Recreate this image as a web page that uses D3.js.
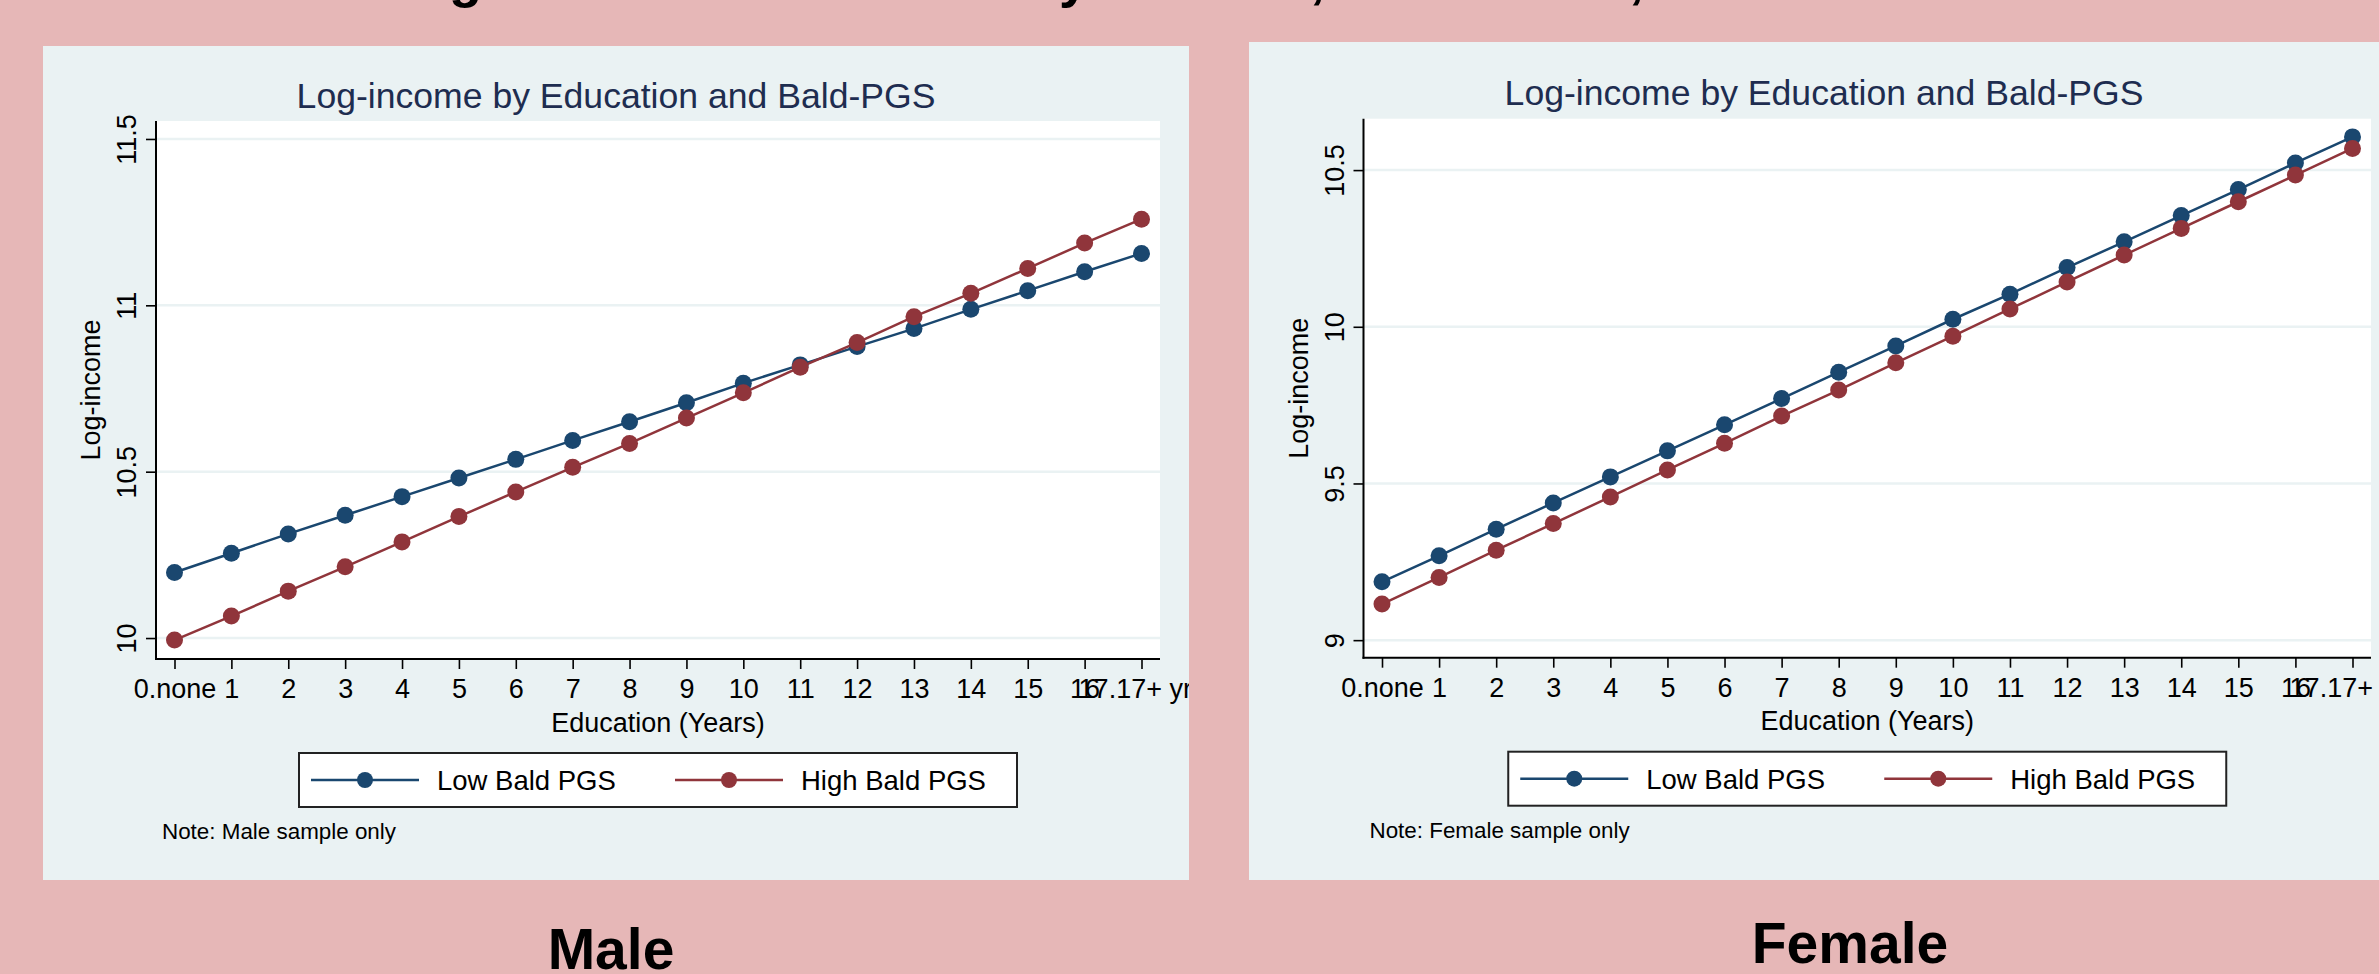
<!DOCTYPE html>
<html>
<head>
<meta charset="utf-8">
<script src="https://cdn.jsdelivr.net/npm/d3@7"></script>
<style>
  body { margin: 0; background: #e6b7b7; }
  svg { display: block; font-family: "Liberation Sans", Arial, Helvetica, sans-serif; }
</style>
</head>
<body>
<div id="chart"></div>
<script>
// Data
var eduLabels = ["0.none", "1", "2", "3", "4", "5", "6", "7", "8", "9", "10",
                 "11", "12", "13", "14", "15", "16", "17.17+ yrs"];
var seriesNames = ["Low Bald PGS", "High Bald PGS"];

var maleLow  = [10.197, 10.255, 10.313, 10.369, 10.425, 10.481, 10.537, 10.594, 10.650,
                10.707, 10.766, 10.821, 10.876, 10.930, 10.988, 11.044, 11.101, 11.156];
var maleHigh = [9.994, 10.066, 10.141, 10.214, 10.289, 10.365, 10.439, 10.513, 10.585,
                10.661, 10.737, 10.814, 10.888, 10.966, 11.036, 11.111, 11.187, 11.259];

var femaleLow  = [9.186, 9.269, 9.354, 9.438, 9.521, 9.604, 9.687, 9.771, 9.855,
                  9.939, 10.024, 10.104, 10.189, 10.271, 10.355, 10.438, 10.523, 10.606];
var femaleHigh = [9.115, 9.200, 9.287, 9.372, 9.457, 9.543, 9.628, 9.715, 9.798,
                  9.885, 9.970, 10.057, 10.143, 10.229, 10.314, 10.399, 10.484, 10.569];

var maleYTicks = [10, 10.5, 11, 11.5];
var maleYTickLabels = ["10", "10.5", "11", "11.5"];
var femaleYTicks = [9, 9.5, 10, 10.5];
var femaleYTickLabels = ["9", "9.5", "10", "10.5"];

var maleYRange = [9.937, 11.554];
var femaleYRange = [8.944, 10.664];


// Page size
var svgWidth = 2379;
var svgHeight = 974;

var colors = ["#1a476f", "#90353b"];
var panelBg = "#eaf2f3";
var fontSize = 27;

var svg = d3.select("#chart")
  .append("svg")
  .attr("width", svgWidth)
  .attr("height", svgHeight);

svg.append("rect")
  .attr("width", svgWidth)
  .attr("height", svgHeight)
  .attr("fill", "#e6b7b7");


// Slide heading, mostly cut off at the top of the picture (only descenders show)
var headParts = [
  {text: "Earnings and", x: 281, anchor: "start"},
  {text: "Education by", x: 1089, anchor: "end"},
  {text: "Cohort,", x: 1325, anchor: "end"},
  {text: "Bald-PGS,", x: 1644, anchor: "end"},
  {text: "and Sex", x: 1660, anchor: "start"}
];
svg.selectAll(".head")
  .data(headParts)
  .enter()
  .append("text")
  .attr("class", "head")
  .attr("x", d => d.x)
  .attr("y", -3)
  .attr("text-anchor", d => d.anchor)
  .attr("font-size", "54px")
  .attr("font-weight", "bold")
  .attr("fill", "#000")
  .text(d => d.text);


var panels = [
  {
    id: "male",
    box: {x: 43, y: 46, w: 1146, h: 834},
    plot: {l: 156, r: 1160, t: 121, b: 659},
    titleY: 108,
    yRange: maleYRange,
    yTicks: maleYTicks,
    yTickLabels: maleYTickLabels,
    series: [maleLow, maleHigh],
    note: "Note: Male sample only",
    caption: "Male",
    captionX: 611,
    captionY: 969
  },
  {
    id: "female",
    box: {x: 1249, y: 42, w: 1150, h: 838},
    plot: {l: 1363.5, r: 2371, t: 118.7, b: 657.7},
    titleY: 104.5,
    yRange: femaleYRange,
    yTicks: femaleYTicks,
    yTickLabels: femaleYTickLabels,
    series: [femaleLow, femaleHigh],
    note: "Note: Female sample only",
    caption: "Female",
    captionX: 1850,
    captionY: 963
  }
];

panels.forEach(function(p) {
  drawPanel(p);
});


function drawPanel(p) {
  var clipId = "clip-" + p.id;
  svg.append("clipPath")
    .attr("id", clipId)
    .append("rect")
    .attr("x", p.box.x)
    .attr("y", p.box.y)
    .attr("width", p.box.w)
    .attr("height", p.box.h);

  var g = svg.append("g").attr("clip-path", `url(#${clipId})`);

  g.append("rect")
    .attr("x", p.box.x)
    .attr("y", p.box.y)
    .attr("width", p.box.w)
    .attr("height", p.box.h)
    .attr("fill", panelBg);

  // plot region
  g.append("rect")
    .attr("x", p.plot.l)
    .attr("y", p.plot.t)
    .attr("width", p.plot.r - p.plot.l)
    .attr("height", p.plot.b - p.plot.t)
    .attr("fill", "#fff");

  var xScale = d3.scaleLinear()
    .domain([0, eduLabels.length - 1])
    .range([p.plot.l + 18.5, p.plot.r - 18.5]);

  var yScale = d3.scaleLinear()
    .domain(p.yRange)
    .range([p.plot.b, p.plot.t]);

  // gridlines
  g.selectAll(".grid")
    .data(p.yTicks)
    .enter()
    .append("line")
    .attr("x1", p.plot.l)
    .attr("x2", p.plot.r)
    .attr("y1", d => yScale(d))
    .attr("y2", d => yScale(d))
    .attr("stroke", panelBg)
    .attr("stroke-width", 2.5);

  // title
  g.append("text")
    .attr("x", p.box.x + p.box.w / 2)
    .attr("y", p.titleY)
    .attr("text-anchor", "middle")
    .attr("font-size", "35.6px")
    .attr("fill", "#1e2d50")
    .text("Log-income by Education and Bald-PGS");

  // x axis
  var bottomAxis = d3.axisBottom(xScale)
    .tickValues(d3.range(eduLabels.length))
    .tickFormat(i => eduLabels[i])
    .tickSize(10)
    .tickSizeOuter(0)
    .tickPadding(10);

  var xAxis = g.append("g")
    .attr("transform", `translate(0, ${p.plot.b})`)
    .call(bottomAxis);
  xAxis.select(".domain").remove();
  xAxis.selectAll("line").attr("stroke", "#000").attr("stroke-width", 1.6);
  xAxis.selectAll("text")
    .attr("font-size", fontSize + "px")
    .attr("font-family", null)
    .attr("fill", "#000");

  // y axis
  var leftAxis = d3.axisLeft(yScale)
    .tickValues(p.yTicks)
    .tickFormat((d, i) => p.yTickLabels[i])
    .tickSize(10)
    .tickSizeOuter(0);

  var yAxis = g.append("g")
    .attr("transform", `translate(${p.plot.l}, 0)`)
    .call(leftAxis);
  yAxis.select(".domain").remove();
  yAxis.selectAll("line").attr("stroke", "#000").attr("stroke-width", 1.6);
  yAxis.selectAll("text")
    .attr("x", 0)
    .attr("dy", 0)
    .attr("transform", "translate(-20, 0) rotate(-90)")
    .attr("text-anchor", "middle")
    .attr("font-size", fontSize + "px")
    .attr("font-family", null)
    .attr("fill", "#000");

  // axis lines
  g.append("line")
    .attr("x1", p.plot.l).attr("x2", p.plot.l)
    .attr("y1", p.plot.t).attr("y2", p.plot.b + 1)
    .attr("stroke", "#000").attr("stroke-width", 2);
  g.append("line")
    .attr("x1", p.plot.l - 1).attr("x2", p.plot.r)
    .attr("y1", p.plot.b).attr("y2", p.plot.b)
    .attr("stroke", "#000").attr("stroke-width", 2);

  // axis titles
  g.append("text")
    .attr("transform", `translate(${p.plot.l - 56}, ${(p.plot.t + p.plot.b) / 2}) rotate(-90)`)
    .attr("text-anchor", "middle")
    .attr("font-size", fontSize + "px")
    .attr("fill", "#000")
    .text("Log-income");

  g.append("text")
    .attr("x", (p.plot.l + p.plot.r) / 2)
    .attr("y", p.plot.b + 72.5)
    .attr("text-anchor", "middle")
    .attr("font-size", fontSize + "px")
    .attr("fill", "#000")
    .text("Education (Years)");

  // lines and markers
  var line = d3.line()
    .x((d, i) => xScale(i))
    .y(d => yScale(d));

  p.series.forEach(function(values, s) {
    g.append("path")
      .datum(values)
      .attr("d", line)
      .attr("fill", "none")
      .attr("stroke", colors[s])
      .attr("stroke-width", 2.5);

    g.selectAll(".dot" + s)
      .data(values)
      .enter()
      .append("circle")
      .attr("cx", (d, i) => xScale(i))
      .attr("cy", d => yScale(d))
      .attr("r", 8.5)
      .attr("fill", colors[s]);
  });

  // legend
  var legW = 718, legH = 54;
  var legX = (p.plot.l + p.plot.r) / 2 - legW / 2;
  var legY = p.plot.b + 94;
  var legend = g.append("g").attr("transform", `translate(${legX}, ${legY})`);

  legend.append("rect")
    .attr("width", legW)
    .attr("height", legH)
    .attr("fill", "#fff")
    .attr("stroke", "#222")
    .attr("stroke-width", 2);

  var itemX = [12, 376];
  seriesNames.forEach(function(name, s) {
    var x0 = itemX[s];
    legend.append("line")
      .attr("x1", x0).attr("x2", x0 + 108)
      .attr("y1", legH / 2).attr("y2", legH / 2)
      .attr("stroke", colors[s])
      .attr("stroke-width", 2.5);
    legend.append("circle")
      .attr("cx", x0 + 54)
      .attr("cy", legH / 2)
      .attr("r", 8)
      .attr("fill", colors[s]);
    legend.append("text")
      .attr("x", x0 + 126)
      .attr("y", legH / 2 + 10)
      .attr("font-size", "27.5px")
      .attr("fill", "#000")
      .text(name);
  });

  // note
  g.append("text")
    .attr("x", p.plot.l + 6)
    .attr("y", p.plot.b + 180)
    .attr("font-size", "22.4px")
    .attr("fill", "#000")
    .text(p.note);

  // caption under the panel
  svg.append("text")
    .attr("x", p.captionX)
    .attr("y", p.captionY)
    .attr("text-anchor", "middle")
    .attr("font-size", "57px")
    .attr("font-weight", "bold")
    .attr("fill", "#000")
    .text(p.caption);
}
</script>
</body>
</html>
